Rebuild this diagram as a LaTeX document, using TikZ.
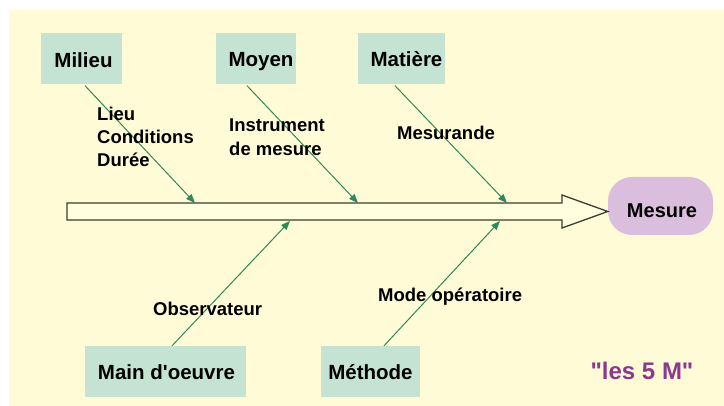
\documentclass[tikz,border=0pt]{standalone}
\usepackage{fontspec}
\setmainfont{Liberation Sans}[Ligatures=TeXOff]
\usetikzlibrary{arrows.meta}

\definecolor{cream}{RGB}{255,251,215}
\definecolor{spinefill}{RGB}{255,255,224}
\definecolor{spineline}{RGB}{60,60,50}
\definecolor{mint}{RGB}{196,227,210}
\definecolor{lavender}{RGB}{219,190,221}
\definecolor{plum}{RGB}{140,56,140}
\definecolor{branch}{RGB}{46,136,90}

\tikzset{
  cause/.style={fill=mint, inner sep=0pt, minimum height=51pt,
    font={\fontsize{20.5}{24}\selectfont\bfseries}},
  effect/.style={fill=lavender, rounded corners=24pt, inner sep=0pt,
    minimum width=105pt, minimum height=58pt,
    font={\fontsize{20}{24}\selectfont\bfseries}},
  factor/.style={inner sep=0pt, align=left,
    font={\fontsize{18.5}{23.3}\selectfont\bfseries}},
  bone/.style={draw=branch, line width=1pt,
    -{Triangle[length=9pt,width=7pt]}},
  % lowers a single line of text inside its box by #1
  lowered/.style={text depth=0pt, text height={14.7pt+2*#1}},
}

\begin{document}
\begin{tikzpicture}[x=1pt, y=-1pt]
  \useasboundingbox (0,0) rectangle (724,406);
  \fill[cream] (9,10) rectangle (724,406);

  % the five causes
  \node[cause, lowered=2pt, minimum width=81pt]  (milieu)  at (81.5,58.5)   {\hspace*{4pt}Milieu};
  \node[cause, lowered=1pt, minimum width=80pt]  (moyen)   at (256,58.5)    {\hspace*{10pt}Moyen};
  \node[cause, lowered=1pt, minimum width=87pt]  (matiere) at (401.5,58.5)  {\hspace*{10pt}Matière};
  \node[cause, lowered=1pt, minimum width=161pt] (main)    at (165.5,371.5) {\hspace*{2pt}Main d'oeuvre};
  \node[cause, lowered=1pt, minimum width=99pt]  (methode) at (370.5,371.5) {Méthode};

  % the effect
  \node[effect, text depth=0pt, text height=23.3pt] (mesure) at (660.5,206) {\hspace*{3pt}Mesure};

  % main spine, a hollow arrow pointing at the effect
  \coordinate (tail) at (67,211.5);
  \draw[spineline, fill=spinefill, line width=1.3pt, line join=miter]
    (tail |- 0,203) -- (562,203) -- (562,195) -- (mesure.west |- tail)
    -- (562,228) -- (562,220) -- (tail |- 0,220) -- cycle;

  % where the branches meet the spine
  \coordinate (jmilieu)  at (195,203);
  \coordinate (jmoyen)   at (358,203);
  \coordinate (jmatiere) at (507,203);
  \coordinate (jmain)    at (290,221);
  \coordinate (jmethode) at (500,221);

  % branches
  \draw[bone] ([xshift=3.5pt,yshift=-1.5pt]milieu.south)  -- (jmilieu);
  \draw[bone] ([xshift=-9pt,yshift=-1.5pt]moyen.south)    -- (jmoyen);
  \draw[bone] ([xshift=-6.5pt,yshift=-1.5pt]matiere.south) -- (jmatiere);
  \draw[bone] ([xshift=6.5pt]main.north)     -- (jmain);
  \draw[bone] ([xshift=13.5pt]methode.north) -- (jmethode);

  % factors on each branch
  \node[factor, anchor=north west] (lieu)  at (97,106.7) {Lieu\\Conditions\\Durée};
  \node[factor, anchor=north west] (instr) at (229,119) {Instrument\\de mesure};
  \node[factor, anchor=base west] (mesurande) at (397,140) {Mesurande};
  \node[factor, anchor=base west] (observ)    at (153,315.7) {Observateur};
  \node[factor, anchor=base west] (mode)      at (378,302) {Mode opératoire};

  % caption
  \node[text=plum, inner sep=0pt, font={\fontsize{24}{28}\selectfont\bfseries}]
    (cinqm) at (642,371) {"les 5 M"};
\end{tikzpicture}
\end{document}
